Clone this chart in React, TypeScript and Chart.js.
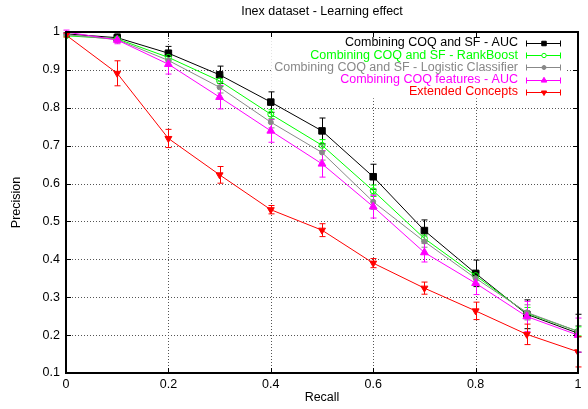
import React, { useEffect, useRef } from 'react';
import { Chart, registerables } from 'chart.js';
import { drawPoint } from 'chart.js/helpers';

Chart.register(...registerables);

const recall = [0, 0.1, 0.2, 0.3, 0.4, 0.5, 0.6, 0.7, 0.8, 0.9, 1.0];

const seriesNames = [
  'Combining COQ and SF - AUC',
  'Combining COQ and SF - RankBoost',
  'Combining COQ and SF - Logistic Classifier',
  'Combining COQ features - AUC',
  'Extended Concepts',
];

const aucValues = [0.995, 0.985, 0.944, 0.887, 0.815, 0.739, 0.618, 0.476, 0.363, 0.255, 0.205];
const aucErr = [0.003, 0.01, 0.018, 0.023, 0.027, 0.034, 0.033, 0.028, 0.035, 0.038, 0.05];

const rankBoostValues = [0.99, 0.982, 0.933, 0.871, 0.783, 0.701, 0.581, 0.455, 0.357, 0.258, 0.21];
const rankBoostErr = [0.003, 0.008, 0.012, 0.015, 0.012, 0.015, 0.015, 0.012, 0.012, 0.015, 0.012];

const logisticValues = [0.993, 0.98, 0.925, 0.854, 0.762, 0.682, 0.552, 0.447, 0.35, 0.26, 0.21];
const logisticErr = [0.003, 0.008, 0.015, 0.015, 0.015, 0.02, 0.02, 0.015, 0.015, 0.02, 0.015];

const featuresValues = [1.0, 0.979, 0.915, 0.828, 0.739, 0.652, 0.539, 0.418, 0.337, 0.249, 0.2];
const featuresErr = [0.005, 0.01, 0.026, 0.031, 0.03, 0.035, 0.03, 0.025, 0.03, 0.04, 0.045];

const extendedValues = [0.992, 0.891, 0.719, 0.623, 0.531, 0.477, 0.39, 0.324, 0.264, 0.202, 0.156];
const extendedErr = [0.005, 0.033, 0.024, 0.022, 0.011, 0.017, 0.012, 0.016, 0.023, 0.027, 0.04];

const xTickLabels = ['0', '0.2', '0.4', '0.6', '0.8', '1'];
const yTickLabels = ['0.1', '0.2', '0.3', '0.4', '0.5', '0.6', '0.7', '0.8', '0.9', '1'];

const chartTitle = 'Inex dataset - Learning effect';
const xTitle = 'Recall';
const yTitle = 'Precision';

const FONT = '"Liberation Sans", Arial, Helvetica, sans-serif';
const FSIZE = 12.5;

const colors = ['#000000', '#00ff00', '#888888', '#ff00ff', '#ff0000'];
const pointStyles = ['rect', 'circle', 'circle', 'triangle', 'triangle'];
const pointRadii = [4.6, 3, 2.5, 4.5, 4];
const legendRadii = [3.2, 2.2, 2, 3.2, 3];
const pointRotations = [0, 0, 0, 0, 180];
const filled = [true, false, true, true, true];

const values = [aucValues, rankBoostValues, logisticValues, featuresValues, extendedValues];
const errors = [aucErr, rankBoostErr, logisticErr, featuresErr, extendedErr];

const LEG_TEXT_RIGHT = 518;
const LEG_X0 = 526;
const LEG_X1 = 561;
const LEG_MID = 544;
const LEG_Y0 = 43;
const LEG_DY = 12.2;

const framePlugin = {
  id: 'frame',
  beforeDatasetsDraw(chart: any) {
    const { ctx, chartArea: a, scales } = chart;
    const xs = scales.x;
    const ys = scales.y;
    ctx.save();
    ctx.strokeStyle = '#555555';
    ctx.lineWidth = 1;
    ctx.setLineDash([1, 2]);
    xs.ticks.forEach((t: any) => {
      const px = Math.round(xs.getPixelForValue(t.value)) + 0.5;
      if (px <= a.left + 1 || px >= a.right - 1) return;
      ctx.beginPath();
      ctx.moveTo(px, a.top);
      ctx.lineTo(px, a.bottom);
      ctx.stroke();
    });
    ys.ticks.forEach((t: any) => {
      const py = Math.round(ys.getPixelForValue(t.value)) + 0.5;
      if (py <= a.top + 1 || py >= a.bottom - 1) return;
      ctx.beginPath();
      ctx.moveTo(a.left, py);
      ctx.lineTo(a.right, py);
      ctx.stroke();
    });
    ctx.setLineDash([]);
    // clear key area (grid hidden behind the key)
    ctx.font = `${FSIZE}px ${FONT}`;
    const maxW = Math.max(...seriesNames.map((n) => ctx.measureText(n).width));
    ctx.fillStyle = '#ffffff';
    const ky0 = LEG_Y0 - 6.5;
    const ky1 = LEG_Y0 + LEG_DY * (seriesNames.length - 1) + 6.5;
    ctx.fillRect(LEG_TEXT_RIGHT - maxW - 3, ky0, LEG_X1 + 4 - (LEG_TEXT_RIGHT - maxW - 3), ky1 - ky0);
    ctx.strokeStyle = '#000000';
    const tl = 5;
    xs.ticks.forEach((t: any) => {
      const px = Math.round(xs.getPixelForValue(t.value)) + 0.5;
      ctx.beginPath();
      ctx.moveTo(px, a.bottom);
      ctx.lineTo(px, a.bottom - tl);
      ctx.moveTo(px, a.top);
      ctx.lineTo(px, a.top + tl);
      ctx.stroke();
    });
    ys.ticks.forEach((t: any) => {
      const py = Math.round(ys.getPixelForValue(t.value)) + 0.5;
      ctx.beginPath();
      ctx.moveTo(a.left, py);
      ctx.lineTo(a.left + tl, py);
      ctx.moveTo(a.right, py);
      ctx.lineTo(a.right - tl, py);
      ctx.stroke();
    });
    chart.data.datasets.forEach((ds: any, i: number) => {
      const errs = errors[i];
      ctx.strokeStyle = colors[i];
      ctx.lineWidth = 1;
      ds.data.forEach((p: any, j: number) => {
        const px = Math.round(xs.getPixelForValue(p.x)) + 0.5;
        const top = ys.getPixelForValue(p.y + errs[j]);
        const bot = ys.getPixelForValue(p.y - errs[j]);
        ctx.beginPath();
        ctx.moveTo(px, top);
        ctx.lineTo(px, bot);
        ctx.moveTo(px - 3, top);
        ctx.lineTo(px + 3, top);
        ctx.moveTo(px - 3, bot);
        ctx.lineTo(px + 3, bot);
        ctx.stroke();
      });
    });
    ctx.restore();
  },
  afterDraw(chart: any) {
    const { ctx, chartArea: a } = chart;
    ctx.save();
    ctx.strokeStyle = '#000000';
    ctx.lineWidth = 2;
    ctx.strokeRect(a.left, a.top, a.right - a.left, a.bottom - a.top);
    ctx.fillStyle = '#000000';
    ctx.font = `${FSIZE}px ${FONT}`;
    ctx.textAlign = 'center';
    ctx.textBaseline = 'middle';
    const cx = (a.left + a.right) / 2;
    ctx.fillText(chartTitle, cx, 12);
    ctx.fillText(xTitle, cx, 398);
    ctx.save();
    ctx.translate(17, (a.top + a.bottom) / 2);
    ctx.rotate(-Math.PI / 2);
    ctx.fillText(yTitle, 0, 0);
    ctx.restore();
    seriesNames.forEach((name, i) => {
      const y = LEG_Y0 + i * LEG_DY;
      ctx.fillStyle = colors[i];
      ctx.textAlign = 'right';
      ctx.textBaseline = 'middle';
      ctx.fillText(name, LEG_TEXT_RIGHT, y);
      const yy = Math.round(y) + 0.5;
      ctx.strokeStyle = colors[i];
      ctx.lineWidth = 1;
      ctx.beginPath();
      ctx.moveTo(LEG_X0, yy);
      ctx.lineTo(LEG_X1, yy);
      ctx.moveTo(LEG_X0 + 0.5, yy - 3);
      ctx.lineTo(LEG_X0 + 0.5, yy + 3);
      ctx.moveTo(LEG_X1 - 0.5, yy - 3);
      ctx.lineTo(LEG_X1 - 0.5, yy + 3);
      ctx.stroke();
      ctx.fillStyle = filled[i] ? colors[i] : '#ffffff';
      drawPoint(
        ctx,
        {
          pointStyle: pointStyles[i],
          radius: legendRadii[i],
          rotation: pointRotations[i],
          borderWidth: 1,
        } as any,
        LEG_MID,
        yy
      );
    });
    ctx.restore();
  },
};

export default function App() {
  const canvasRef = useRef<HTMLCanvasElement | null>(null);

  useEffect(() => {
    const canvas = canvasRef.current;
    if (!canvas) return;
    const datasets = values.map((vals, i) => ({
      label: seriesNames[i],
      data: vals.map((v, j) => ({ x: recall[j], y: v })),
      borderColor: colors[i],
      backgroundColor: filled[i] ? colors[i] : 'rgba(0,0,0,0)',
      borderWidth: 1,
      pointStyle: pointStyles[i],
      pointRadius: pointRadii[i],
      pointRotation: pointRotations[i],
      pointBorderWidth: 1,
      pointBorderColor: colors[i],
      pointBackgroundColor: filled[i] ? colors[i] : 'rgba(0,0,0,0)',
      fill: false,
      tension: 0,
      order: values.length - i,
    }));

    const chart = new Chart(canvas, {
      type: 'line',
      data: { datasets },
      options: {
        responsive: false,
        animation: false,
        events: [],
        layout: { padding: { top: 32, right: 10, left: 0, bottom: 0 } },
        plugins: {
          legend: { display: false },
          title: { display: false },
          tooltip: { enabled: false },
        },
        scales: {
          x: {
            type: 'linear',
            min: 0,
            max: 1,
            afterFit: (s: any) => {
              s.height = 36;
            },
            afterBuildTicks: (s: any) => {
              s.ticks = xTickLabels.map((l) => ({ value: parseFloat(l) }));
            },
            ticks: {
              color: '#000000',
              font: { family: FONT, size: FSIZE },
              padding: 4,
              maxRotation: 0,
              autoSkip: false,
              callback: (v: any) => {
                const f = xTickLabels.find((l) => Math.abs(parseFloat(l) - v) < 1e-9);
                return f ?? '';
              },
            },
            grid: { display: false, drawTicks: false },
            border: { display: false },
          },
          y: {
            type: 'linear',
            min: 0.1,
            max: 1,
            afterFit: (s: any) => {
              s.width = 66;
            },
            afterBuildTicks: (s: any) => {
              s.ticks = yTickLabels.map((l) => ({ value: parseFloat(l) }));
            },
            ticks: {
              color: '#000000',
              font: { family: FONT, size: FSIZE },
              padding: 6,
              autoSkip: false,
              callback: (v: any) => {
                const f = yTickLabels.find((l) => Math.abs(parseFloat(l) - v) < 1e-9);
                return f ?? '';
              },
            },
            grid: { display: false, drawTicks: false },
            border: { display: false },
          },
        },
      },
      plugins: [framePlugin],
    } as any);

    return () => {
      chart.destroy();
    };
  }, []);

  return (
    <div style={{ position: 'absolute', left: 0, top: 0, width: 588, height: 409, background: '#ffffff' }}>
      <canvas ref={canvasRef} width={588} height={409} style={{ display: 'block', width: 588, height: 409 }} />
    </div>
  );
}
